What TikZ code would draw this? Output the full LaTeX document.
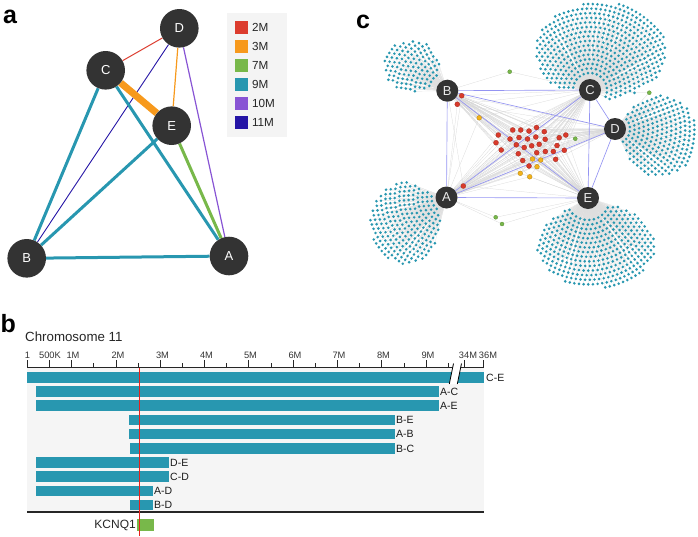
\documentclass[tikz,border=0pt]{standalone}
\usepackage{fontspec}
\setmainfont{Liberation Sans}
\pgfdeclarelayer{bg}
\pgfdeclarelayer{fg}
\pgfsetlayers{bg,main,fg}
\definecolor{nodegray}{HTML}{333333}
\definecolor{cRed}{HTML}{DC3C2E}
\definecolor{cOrange}{HTML}{F7991C}
\definecolor{cGreen}{HTML}{78B84A}
\definecolor{tealc}{HTML}{2897B0}
\definecolor{cPurple}{HTML}{8854D4}
\definecolor{cNavy}{HTML}{2515A6}
\definecolor{legendbg}{HTML}{F4F4F4}
\definecolor{panelbg}{HTML}{F5F5F5}
\definecolor{blueedge}{HTML}{9494F2}
\definecolor{dotred}{HTML}{D93A2B}
\definecolor{dotyellow}{HTML}{F2B21B}
\definecolor{markred}{HTML}{E8201A}
\newcommand\setfs[1]{\fontsize{#1}{#1}\selectfont}
\newif\ifleafdots
\tikzset{
  anode/.style={circle, fill=nodegray, minimum size=38.6pt, inner sep=0pt, text=white, font=\setfs{13}},
  cnode/.style={circle, fill=nodegray, minimum size=22pt, inner sep=0pt, text=white!92!black, font=\setfs{13}},
  plabel/.style={inner sep=0pt, anchor=base west, font=\setfs{25}\bfseries},
  legtext/.style={inner sep=0pt, anchor=west, font=\setfs{11.7}, text=black!85},
  ticklab/.style={inner sep=0pt, anchor=base, font=\setfs{9.3}, text=black!80},
  barlab/.style={inner sep=0pt, anchor=west, font=\setfs{10.5}, text=black!90},
  leafline/.style={draw=black!13, line width=0.2pt},
  graylink/.style={draw=black!16, line width=0.25pt},
  bluelink/.style={draw=blueedge, line width=0.65pt},
  reddot/.style={fill=dotred, draw=dotred!75!black, line width=0.3pt},
  yeldot/.style={fill=dotyellow, draw=dotyellow!75!black, line width=0.3pt},
  grndot/.style={fill=cGreen, draw=cGreen!75!black, line width=0.3pt}
}
\newcommand\leafcluster[9]{%
  \pgfmathsetmacro\cdir{atan2(#3-#5,#4-#2)}%
  \pgfmathsetmacro\crmax{veclen(#4-#2,#5-#3)+max(#6,#7)}%
  \pgfmathtruncatemacro\cnring{(\crmax-#8)/4.6}%
  \foreach \k in {0,...,\cnring}{%
    \pgfmathsetmacro\crr{#8+4.6*\k}%
    \pgfmathtruncatemacro\cnn{\crr*0.017453/4.7*2*#9}%
    \foreach \i in {0,...,\cnn}{%
      \pgfmathsetmacro\cang{\cdir-#9+(\i+0.5)/(\cnn+1)*2*#9}%
      \pgfmathsetmacro\cpx{#2+\crr*cos(\cang)}%
      \pgfmathsetmacro\cpy{#3-\crr*sin(\cang)}%
      \pgfmathsetmacro\ctst{((\cpx-#4)/#6)*((\cpx-#4)/#6)+((\cpy-#5)/#7)*((\cpy-#5)/#7)}%
      \ifdim\ctst pt<1pt
        \ifleafdots
          \fill[tealc] (\cpx,\cpy) circle (1.45pt);%
        \else
          \draw[leafline] (#1.center) -- (\cpx,\cpy);%
        \fi
      \fi
    }%
  }%
}
\newcommand\allclusters{%
\leafcluster{cC}{590}{90}{601}{51}{66}{49}{17}{105}%
\leafcluster{cD}{615}{129}{660}{136}{38}{41}{15}{90}%
\leafcluster{cE}{588}{198}{596}{246}{59}{42}{22}{85}%
\leafcluster{cA}{446.5}{197.5}{405}{223}{35}{41}{15}{80}%
\leafcluster{cB}{447.3}{90.7}{412}{66}{28}{26}{14}{80}%
}
\newcommand\redlist{461.7/95.7, 457.3/104.3, 463.3/186, 512.7/130, 520.7/130, 529/131, 536.5/127.5, 544.3/131.7, 498.3/135, 510/139, 519/137.5, 527.5/139, 535.8/137, 545.2/139.3, 559.2/137.7, 565.8/135, 496/142.7, 516.3/144.8, 524.2/147.5, 531.7/145.8, 539.2/144.3, 557/145.5, 501.2/150, 518.3/153.7, 536.7/152.7, 545.3/151.5, 553.3/151.5, 564.3/150.3, 522.7/160.5, 555.7/159.3, 529/166}
\newcommand\yellist{479.2/117.8, 532.5/159, 540.7/160, 537/166.7, 520.3/173.3, 529.7/176.8}
\newcommand\grnlist{509.7/71.7/cB/cC, 649.3/92.7/cC/cD, 575.3/138.7/cD/cA, 495.7/217.3/cA/cE, 502/224/cA/cE}
\begin{document}
\begin{tikzpicture}[x=1pt,y=-1pt]
\useasboundingbox (0,0) rectangle (698,536);

% ---------------- panel a ----------------
\node[plabel] (la) at (3,23.3) {a};
\begin{pgfonlayer}{fg}
\node[anode] (aD) at (179.3,28.3) {D};
\node[anode] (aC) at (105.7,70.3) {C};
\node[anode] (aE) at (171.7,125.7) {E};
\node[anode] (aB) at (26.7,258.3) {B};
\node[anode] (aA) at (229,256) {A};
\node[cnode] (cB) at (447.3,90.7) {B};
\node[cnode] (cC) at (590,90) {C};
\node[cnode] (cD) at (615,129) {D};
\node[cnode] (cA) at (446.5,197.5) {A};
\node[cnode] (cE) at (588,198) {E};
\end{pgfonlayer}
\draw[cRed, line width=1pt] (aC) -- (aD);
\draw[cNavy, line width=0.9pt] (aD) -- (aB);
\draw[cPurple, line width=1.2pt] (aD) -- (aA);
\draw[cOrange, line width=1.2pt] (aD) -- (aE);
\draw[tealc, line width=3pt] (aC) -- (aB);
\draw[tealc, line width=3pt] (aC) -- (aA);
\draw[tealc, line width=3pt] (aE) -- (aB);
\draw[tealc, line width=3pt] (aB) -- (aA);
\draw[cGreen, line width=3pt] (aE) -- (aA);
\draw[cOrange, line width=7pt] (aC) -- (aE);

\fill[legendbg] (227,13) rectangle (286.5,136.5);
\foreach \c/\t [count=\i from 0] in {cRed/2M, cOrange/3M, cGreen/7M, tealc/9M, cPurple/10M, cNavy/11M}{
  \fill[\c] (235,{20.6+19*\i}) rectangle ++(13,13);
  \node[legtext] (leg\i) at (251.8,{27.1+19*\i}) {\t};
}

% ---------------- panel b ----------------
\node[plabel] (lb) at (0.5,332.7) {b};
\node[inner sep=0pt, anchor=base west, font=\setfs{13.3}, text=black!85] (chr) at (25,341.5) {Chromosome 11};
\fill[panelbg] (27.3,367) rectangle (484,512);
\foreach \xs/\xe/\lab/\dx [count=\i from 0] in {27.3/484/C-E/2, 36/439/A-C/1, 36/439/A-E/1, 129/395/B-E/1, 129/395/A-B/1, 130/395/B-C/1, 36/169/D-E/1, 36/169/C-D/1, 36/153/A-D/1, 130/153/B-D/1}{
  \fill[tealc] (\xs,{372+14.2*\i}) rectangle (\xe,{382.6+14.2*\i});
  \node[barlab] (bl\i) at (\xe+\dx,{377.4+14.2*\i}) {\lab};
}
\draw[line width=0.8pt, black!85] (27.3,367) -- (484,367);
\foreach \m in {0,...,9}{ \draw[line width=0.7pt, black!85] (27.3+44.3*\m,367) -- ++(0,-7); }
\foreach \m in {1.5,2.5,...,9.5}{ \draw[line width=0.7pt, black!85] (27.3+44.3*\m,367) -- ++(0,-4); }
\draw[line width=0.7pt, black!85] (49.45,367) -- ++(0,-7);
\draw[line width=0.7pt, black!85] (464,367) -- ++(0,-7);
\draw[line width=0.7pt, black!85] (483.6,367) -- ++(0,-7);
\foreach \x/\t [count=\i] in {27.5/1, 50/500K, 73/1M, 118/2M, 162.5/3M, 206.5/4M, 250.5/5M, 295/6M, 339/7M, 383.5/8M, 428/9M, 468/34M, 488/36M}{
  \node[ticklab] (tl\i) at (\x,358.6) {\t};
}
% axis break
\fill[white] (453.5,363.5) -- (461.5,363.5) -- (457.3,384) -- (449.3,384) -- cycle;
\draw[line width=0.8pt] (453.5,363.5) -- (449.3,384);
\draw[line width=0.8pt] (461.5,363.5) -- (457.3,384);
\draw[line width=1.5pt, black!85] (27.3,512) -- (484,512);
\fill[cGreen] (137.3,519) rectangle (154,531);
\node[inner sep=0pt, anchor=east, font=\setfs{12}, text=black!85] (kcnq) at (136,525) {KCNQ1};
\draw[markred, line width=1pt] (139.3,368) -- (139.3,536);

% ---------------- panel c ----------------
\node[plabel] (lc) at (356,28.3) {c};
% gray links first
\leafdotsfalse
\allclusters
\foreach \x/\y in \redlist{
  \foreach \n in {cA,cB,cC,cD,cE}{ \draw[graylink] (\n.center) -- (\x,\y); }
}
\foreach \x/\y in \yellist{
  \foreach \n in {cA,cB,cC,cE}{ \draw[graylink] (\n.center) -- (\x,\y); }
}
\foreach \x/\y/\p/\q in \grnlist{
  \draw[graylink] (\p.center) -- (\x,\y);
  \draw[graylink] (\q.center) -- (\x,\y);
}
% blue links between individuals
\draw[bluelink] (cB) -- (cC);
\draw[bluelink] (cB) -- (cD);
\draw[bluelink] (cB) -- (cA);
\draw[bluelink] (cB) -- (cE);
\draw[bluelink] (cC) -- (cA);
\draw[bluelink] (cC) -- (cD);
\draw[bluelink] (cC) -- (cE);
\draw[bluelink] (cD) -- (cA);
\draw[bluelink] (cD) -- (cE);
\draw[bluelink] (cA) -- (cE);
% dots
\leafdotstrue
\allclusters
\foreach \x/\y in \redlist{ \draw[reddot] (\x,\y) circle (2.5pt); }
\foreach \x/\y in \yellist{ \draw[yeldot] (\x,\y) circle (2.4pt); }
\foreach \x/\y/\p/\q in \grnlist{ \draw[grndot] (\x,\y) circle (2pt); }
\end{tikzpicture}
\end{document}
